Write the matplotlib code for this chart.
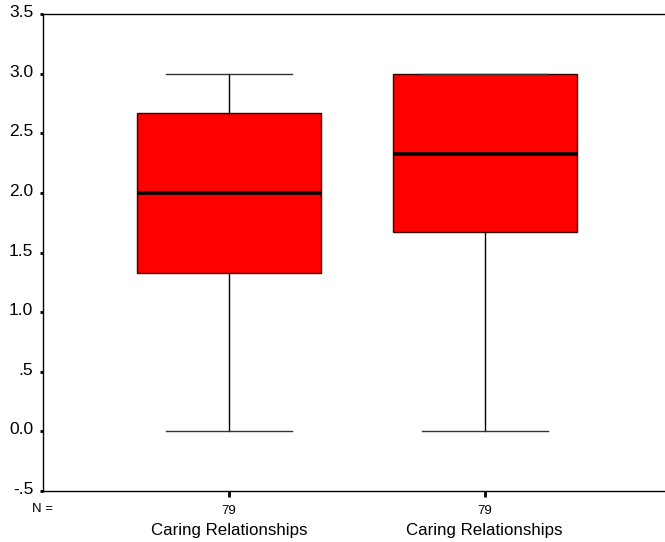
import matplotlib.pyplot as plt
import matplotlib.transforms as mtransforms

plt.rcParams['font.family'] = ['Liberation Sans', 'DejaVu Sans']

# boxplot summary values
labels = ['Caring Relationships', 'Caring Relationships']
counts = [79, 79]
whislo = [0.0, 0.0]
q1 = [1.33, 1.67]
med = [2.0, 2.33]
q3 = [2.67, 3.0]
whishi = [3.0, 3.0]
yticks = [-0.5, 0.0, 0.5, 1.0, 1.5, 2.0, 2.5, 3.0, 3.5]
yticklabels = ['-.5', '0.0', '.5', '1.0', '1.5', '2.0', '2.5', '3.0', '3.5']

stats = []
for i in range(len(labels)):
    stats.append(dict(whislo=whislo[i], q1=q1[i], med=med[i], q3=q3[i],
                      whishi=whishi[i], fliers=[], label=labels[i]))

fig = plt.figure(figsize=(6.65, 5.42), dpi=100)
ax = fig.add_axes([43 / 665, 1 - 491 / 542, 1 - 43 / 665 + 0.01, (491 - 14) / 542])

positions = [1, 2]
ax.bxp(stats, positions=positions, widths=0.72, capwidths=0.494,
       showfliers=False, patch_artist=True,
       boxprops=dict(facecolor='#ff0000', edgecolor='#3a0000', linewidth=1.0),
       medianprops=dict(color='black', linewidth=2.6),
       whiskerprops=dict(color='black', linewidth=1.0),
       capprops=dict(color='#333333', linewidth=1.0))

ax.set_xlim(1 - 187 / 257, 2 + 188 / 257)
ax.set_ylim(-0.5, 3.5)
ax.set_yticks(yticks)
ax.set_yticklabels(yticklabels, fontsize=12.5)
ax.tick_params(axis='y', length=2, width=2, pad=5)
# SPSS sets the value labels a little above the tick
shift = mtransforms.ScaledTranslation(0, 3 / 100, fig.dpi_scale_trans)
for t in ax.get_yticklabels():
    t.set_transform(t.get_transform() + shift)

ax.set_xticks(positions)
ax.set_xticklabels([str(c) for c in counts], fontsize=9.5)
ax.tick_params(axis='x', length=4, width=2, pad=6)
ax.spines['right'].set_visible(False)
for s in ['left', 'bottom', 'top']:
    ax.spines[s].set_linewidth(1.0)

for p, lab in zip(positions, labels):
    ax.text(p, -0.5 - 40 / 119.25, lab, ha='center', va='center', fontsize=12.2,
            transform=ax.transData, clip_on=False)

fig.text(42 / 665, 1 - 509 / 542, 'N =', fontsize=9.5, ha='center', va='center')

fig.savefig('out.png', dpi=100)
